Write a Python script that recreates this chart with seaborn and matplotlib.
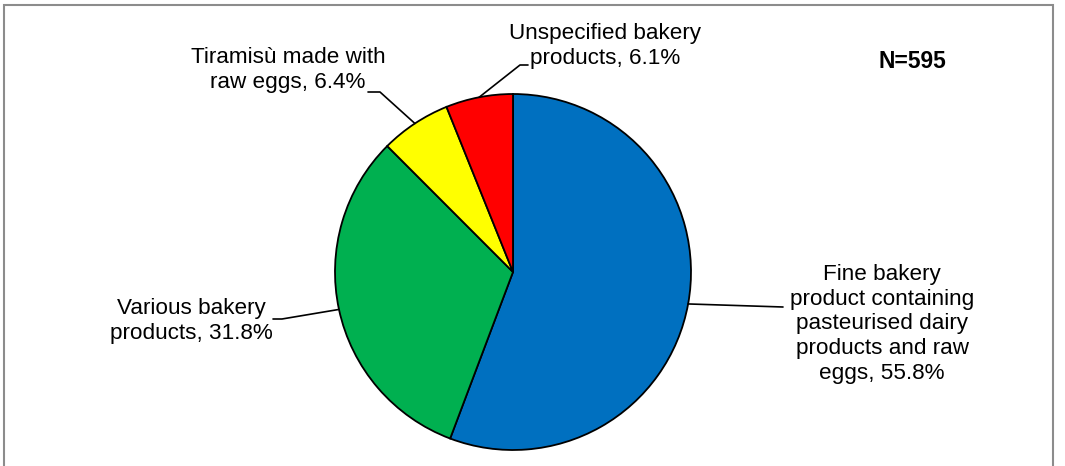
import numpy as np
import matplotlib
matplotlib.use("Agg")
import matplotlib.pyplot as plt
import seaborn as sns
from matplotlib.patches import Rectangle

# Food vehicles, N=595
categories = [
    "Fine bakery\nproduct containing\npasteurised dairy\nproducts and raw\neggs",
    "Various bakery\nproducts",
    "Tiramisù made with\nraw eggs",
    "Unspecified bakery\nproducts",
]
shares = [55.8, 31.8, 6.4, 6.1]
colors = ["#0070C0", "#00B050", "#FFFF00", "#FF0000"]

sns.set_theme(style="white")
plt.rcParams["font.family"] = ["Liberation Sans", "DejaVu Sans"]

W, H = 1065, 466
fig = plt.figure(figsize=(W / 100, H / 100), dpi=100)
ax = fig.add_axes([0, 0, 1, 1])

cx, cy, R = 513, H - 272, 178
wedges, _ = ax.pie(shares, colors=colors, startangle=90, counterclock=False,
                   radius=R, center=(cx, cy),
                   wedgeprops=dict(edgecolor="black", linewidth=1.3))
ax.set_xlim(0, W)
ax.set_ylim(0, H)
ax.set_aspect("auto")
ax.axis("off")

# outer chart frame (bottom edge is cropped in the original)
ax.add_patch(Rectangle((4, -20), 1049, H - 5 + 20, fill=False,
                       edgecolor="#8c8c8c", linewidth=1.5, clip_on=False))

# label text centres and leader line elbows, in pixels from top-left
text_pos = [(882, 324), (191, 321), (288, 70), (605, 46)]
elbows = [[(783, 307)], [(282, 319), (273, 319)],
          [(380, 92), (368, 92)], [(520, 65), (528, 65)]]

for w, lab, val, (tx, ty), elb in zip(wedges, categories, shares, text_pos, elbows):
    ang = np.deg2rad((w.theta1 + w.theta2) / 2)
    xs = [cx + R * np.cos(ang)] + [p[0] for p in elb]
    ys = [cy + R * np.sin(ang)] + [H - p[1] for p in elb]
    ax.plot(xs, ys, color="black", linewidth=1.2)
    ax.text(tx, H - ty, f"{lab}, {val}%", ha="center", va="center",
            fontsize=16.2, color="black", linespacing=1.22)

ax.text(912, H - 61, "N=595", ha="center", va="center",
        fontsize=16.5, fontweight="bold", color="black")

fig.savefig("out.png", dpi=100)
